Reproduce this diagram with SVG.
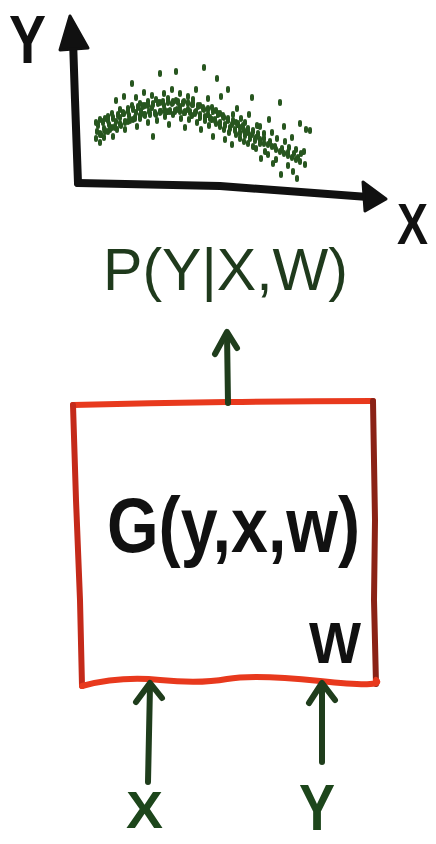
<svg xmlns="http://www.w3.org/2000/svg" width="436" height="844" viewBox="0 0 436 844">
<defs>
<style>
.ink{fill:none;stroke:#111;stroke-width:8;stroke-linecap:round;stroke-linejoin:round}
.gr{fill:none;stroke:#1f3d1c;stroke-width:6;stroke-linecap:round;stroke-linejoin:round}
.red{fill:none;stroke-width:6;stroke-linecap:round;stroke-linejoin:round}
.lbl{font-family:"Liberation Sans","DejaVu Sans",sans-serif}
.dots{fill:none;stroke:#27561f;stroke-width:4;stroke-linecap:round}
</style>
</defs>
<rect width="436" height="844" fill="#fff"/>
<g id="plot">
<path class="ink" d="M78 183 L75 100 L73 40"/>
<path d="M60 50 L70 16 L88 48 Z" fill="#111" stroke="#111" stroke-width="3" stroke-linejoin="round"/>
<path class="ink" d="M78 183 L220 186 L368 197"/>
<path d="M363 182 L386 199 L365 211 Z" fill="#111" stroke="#111" stroke-width="3" stroke-linejoin="round"/>
<text class="lbl" x="9" y="63" font-size="68" font-weight="bold" fill="#111" textLength="37" lengthAdjust="spacingAndGlyphs">Y</text>
<text class="lbl" x="397" y="244" font-size="58" font-weight="bold" fill="#111" textLength="31" lengthAdjust="spacingAndGlyphs">X</text>
<path class="dots" d="M96 121v3M96 137v3M97 130v3M100 118v3M101 133v3M100 141v3M104 127v3M105 117v3M104 136v3M108 115v3M108 130v3M109 123v3M112 112v3M112 126v3M113 135v3M116 99v3M116 120v3M117 128v3M120 108v3M121 124v3M120 116v3M124 95v3M124 112v3M125 128v3M128 107v3M128 120v3M129 114v3M132 82v3M132 104v3M133 118v3M136 111v3M136 96v3M137 125v3M140 102v3M140 117v3M141 109v3M144 91v3M144 113v3M145 104v3M148 100v3M148 121v3M149 110v3M152 94v3M152 106v3M153 135v3M156 98v3M156 113v3M157 119v3M160 72v3M160 101v3M161 110v3M164 92v3M164 104v3M165 115v3M168 97v3M168 110v3M169 123v3M172 88v3M172 102v3M173 113v3M176 70v3M176 99v3M177 108v3M180 92v3M180 105v3M181 117v3M184 100v3M184 111v3M185 126v3M188 95v3M188 108v3M189 118v3M192 103v3M192 114v3M193 98v3M196 88v3M196 110v3M197 121v3M200 104v3M200 116v3M201 128v3M204 66v3M204 108v3M205 119v3M208 97v3M208 113v3M209 124v3M212 106v3M212 118v3M213 135v3M216 109v3M216 122v3M217 77v3M220 112v3M220 125v3M221 95v3M224 116v3M224 128v3M225 138v3M228 88v3M228 119v3M229 131v3M232 123v3M232 143v3M233 113v3M236 121v3M236 133v3M237 107v3M240 126v3M240 137v3M241 117v3M244 129v3M244 140v3M245 121v3M248 131v3M248 142v3M249 113v3M252 96v3M252 133v3M253 145v3M256 136v3M256 147v3M257 124v3M260 138v3M260 125v3M261 157v3M264 142v3M264 132v3M265 150v3M268 143v3M268 153v3M269 118v3M272 145v3M272 131v3M273 162v3M276 148v3M276 158v3M277 137v3M280 101v3M280 150v3M281 173v3M284 152v3M284 125v3M285 140v3M288 154v3M288 164v3M289 146v3M292 136v3M292 156v3M293 170v3M296 158v3M296 148v3M297 177v3M300 122v3M300 160v3M301 152v3M305 163v3M306 128v3M304 150v3M310 129v3"/>
<path class="dots" stroke-width="5.5" d="M98 123v4M100 132v4M103 120v4M105 129v4M108 118v4M110 127v4M113 116v4M115 125v4M118 113v4M120 122v4M123 111v4M125 120v4M128 109v4M130 118v4M133 107v4M135 116v4M138 105v4M140 114v4M143 104v4M145 113v4M148 103v4M150 112v4M153 102v4M155 111v4M158 101v4M160 110v4M163 100v4M165 109v4M168 100v4M170 109v4M173 100v4M175 109v4M178 100v4M180 109v4M183 101v4M185 110v4M188 101v4M190 110v4M193 102v4M195 111v4M198 104v4M200 113v4M203 106v4M205 115v4M208 107v4M210 116v4M213 109v4M215 118v4M218 112v4M220 121v4M223 114v4M225 123v4M228 117v4M230 126v4M233 119v4M235 128v4M238 122v4M240 131v4M243 124v4M245 133v4M248 127v4M250 136v4M253 129v4M255 138v4M258 132v4M260 141v4M264 137v3M270 140v3M275 145v3M282 147v3M288 151v3M294 152v3M298 156v3"/>
</g>
<g id="label-p">
<text class="lbl" x="103" y="290" font-size="60" fill="#1f3a1c" textLength="245" lengthAdjust="spacingAndGlyphs">P(Y|X,W)</text>
</g>
<g id="box-G">
<path class="red" stroke="#e8391d" d="M73 405 Q150 403 227 402 T373 401"/>
<path class="red" stroke="#c42a1a" d="M73 405 L76 500 L80 600 L82 686"/>
<path class="red" stroke="#8a2216" d="M373 401 L375 520 L374 600 L376 684"/>
<path class="red" stroke="#e8391d" d="M82 686 Q120 676 160 680 T227 679 T320 681 T376 680"/>
<text class="lbl" x="107" y="552" font-size="78" font-weight="bold" fill="#111" textLength="253" lengthAdjust="spacingAndGlyphs">G(y,x,w)</text>
<text class="lbl" x="309" y="663" font-size="58" font-weight="bold" fill="#111" textLength="52" lengthAdjust="spacingAndGlyphs">W</text>
</g>
<g id="input-x">
<text class="lbl" x="126" y="828" font-size="52" font-weight="bold" fill="#1d461b" textLength="37" lengthAdjust="spacingAndGlyphs">X</text>
</g>
<g id="input-y">
<text class="lbl" x="299" y="830" font-size="64" font-weight="bold" fill="#1d461b" textLength="36" lengthAdjust="spacingAndGlyphs">Y</text>
</g>
<g id="connectors">
<path class="gr" d="M228 403 L227 334"/>
<path class="gr" d="M215 354 L227 332 L237 348"/>
<path class="gr" d="M148 782 L150 686"/>
<path class="gr" d="M136 702 L150 683 L162 698"/>
<path class="gr" d="M322 762 L322 686"/>
<path class="gr" d="M309 703 L322 683 L335 700"/>
</g>
</svg>
